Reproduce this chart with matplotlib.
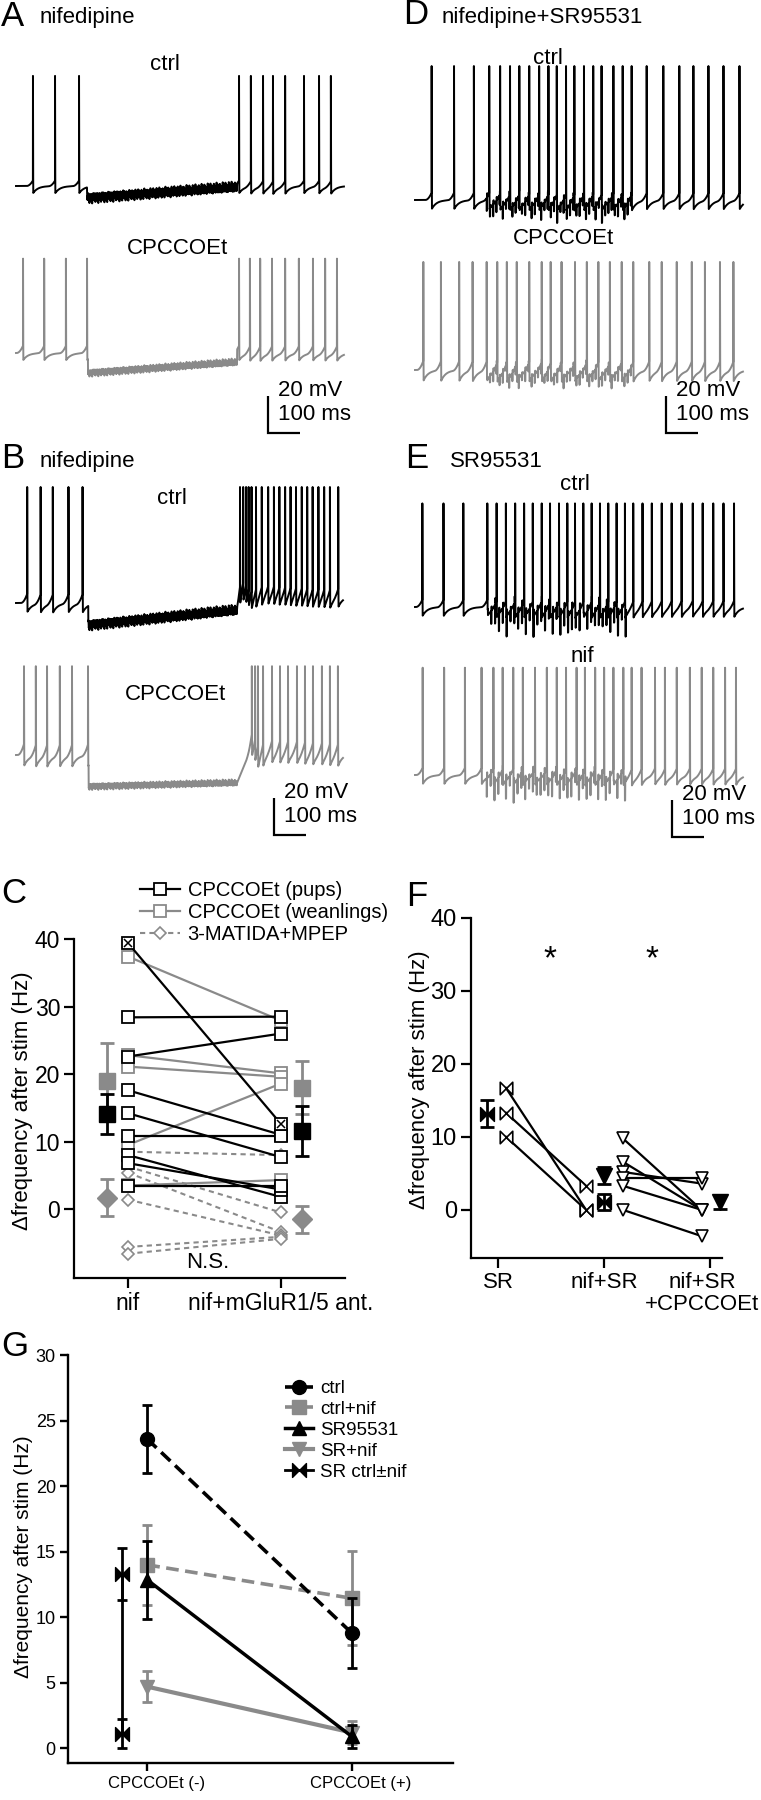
import numpy as np
import matplotlib
matplotlib.use('Agg')
import matplotlib.pyplot as plt
from matplotlib.path import Path
from matplotlib import font_manager
from matplotlib.lines import Line2D
from matplotlib.font_manager import FontProperties
from matplotlib.transforms import ScaledTranslation

# ---------------------------------------------------------------- data ----
# Traces: spike times (ms) read from the recordings
A_DUR = 1025
A_CTRL_SPIKES = [53, 122, 197, 697, 734, 772, 803, 841, 900, 947, 984]
A_CPCC_SPIKES = [22, 88, 156, 222, 697, 731, 763, 800, 841, 884, 928, 966, 1003]
A_CTRL_HYPER = (222, 691, -6.5, -0.5, 3.2)      # start, end, level0, level1, noise (mV)
A_CPCC_HYPER = (225, 691, -10.8, -4.9, 2.2)
A_CTRL_AMP, A_CPCC_AMP = 59.5, 51.0

B_DUR = 1022
B_CTRL_SPIKES = [35, 77, 115, 164, 208, 700, 710, 719, 727, 736, 750, 768, 788, 806,
                 823, 841, 858, 875, 893, 910, 927, 945, 963, 981, 1007]
B_CPCC_SPIKES = [25, 62, 97, 137, 175, 225, 737, 747, 756, 772, 800, 825, 850, 878,
                 903, 928, 956, 981, 1006]
B_CTRL_HYPER = (226, 691, -11.9, -3.8, 3.2)
B_CPCC_HYPER = (227, 691, -17.0, -15.0, 2.0)
B_CTRL_PLATEAU = (691, 1022, -3.8, 7.0, 3.8, 15)   # start, end, from, peak, final, rise
B_CPCC_PLATEAU = (691, 1022, -15.0, 3.8, 1.0, 45)
B_CTRL_AMP, B_CPCC_AMP = 62.7, 48.0

D_DUR = 1025
D_CTRL_SPIKES = [52, 122, 184, 232, 266, 297, 326, 357, 388, 417, 443, 472, 498, 528, 557,
                 583, 620, 649, 677, 724, 776, 826, 870, 917, 964, 1014]
D_CPCC_SPIKES = [26, 81, 138, 180, 224, 257, 287, 318, 357, 396, 424, 458, 500, 537, 573,
                 609, 646, 682, 732, 771, 818, 865, 906, 953, 995]
D_CTRL_STIM = (224, 682, 7.0, 10.0)   # start, end, depth (mV), period (ms)
D_CPCC_STIM = (224, 682, 5.5, 10.0)
D_CTRL_AMP, D_CPCC_AMP = 72.4, 58.4

E_DUR = 1025
E_CTRL_SPIKES = [23, 89, 151, 226, 255, 284, 313, 341, 368, 396, 422, 450, 476, 500, 526,
                 552, 578, 604, 630, 656, 682, 711, 740, 771, 802, 833, 868, 899, 932, 964, 997]
E_NIF_SPIKES = [24, 91, 156, 208, 245, 274, 307, 337, 375, 412, 443, 472, 505, 531, 563,
                591, 620, 651, 677, 708, 750, 781, 818, 859, 896, 932, 969, 1003]
E_CTRL_STIM = (226, 670, 11.0, 12.0)
E_NIF_STIM = (224, 667, 10.0, 12.0)
E_CTRL_AMP, E_NIF_AMP = 56.0, 58.0

# Panel C (Hz)
C_CATS = ['nif', 'nif+mGluR1/5 ant.']
PUPS_NIF = [28.4, 22.6, 17.6, 14.2, 10.8, 8.0, 6.8, 3.4]
PUPS_ANT = [28.5, 26.0, 11.0, 7.7, 10.8, 1.8, 2.9, 3.4]
PUPS_X_NIF, PUPS_X_ANT = 39.4, 12.6          # crossed-square cell
WEAN_NIF = [37.4, 22.8, 21.1, 9.5, 3.5]
WEAN_ANT = [27.9, 20.1, 19.6, 18.6, 4.3]
MAT_NIF = [8.5, 6.3, 5.4, 1.4, -5.6, -6.6]
MAT_ANT = [8.0, -0.5, -3.4, -3.9, -4.1, -4.4]
PUPS_MEAN, PUPS_SEM = [14.1, 11.5], [3.0, 3.7]
WEAN_MEAN, WEAN_SEM = [18.9, 18.0], [5.7, 3.9]
MAT_MEAN, MAT_SEM = [1.7, -1.5], [2.7, 2.0]

# Panel F (Hz)
F_CATS = ['SR', 'nif+SR', 'nif+SR\n+CPCCOEt']
F_SR = [16.7, 13.3, 10.0]
F_SR_NIF = [0.0, 3.3, 0.0]
F_NIFSR = [9.8, 6.6, 5.2, 4.3, 3.3, 0.0]
F_NIFSR_CPCC = [0.0, 0.0, 3.6, 4.3, 0.0, -3.6]
F_BOW_MEAN, F_BOW_SEM = [13.2, 1.1], [1.9, 1.1]
F_TRI_MEAN, F_TRI_SEM = [4.7, 1.1], [1.2, 0.95]

# Panel G (Hz)
G_CATS = ['CPCCOEt (-)', 'CPCCOEt (+)']
G_CTRL, G_CTRL_E = [23.6, 8.8], [2.6, 2.7]
G_CTRLNIF, G_CTRLNIF_E = [14.0, 11.45], [3.05, 3.6]
G_SR, G_SR_E = [12.85, 0.9], [3.0, 0.85]
G_SRNIF, G_SRNIF_E = [4.7, 1.2], [1.17, 0.9]
G_SRCTRL, G_SRCTRL_E = [13.3, 1.1], [1.95, 1.1]

# --------------------------------------------------------------- setup ----
W, H, DPI = 761, 1800, 100
plt.rcParams['font.family'] = ['Liberation Sans', 'DejaVu Sans']
names = {f.name for f in font_manager.fontManager.ttflist}
if 'Liberation Sans Narrow' in names:
    G_FAM, G_SIZE, G_LEG = ['Liberation Sans Narrow', 'Liberation Sans', 'DejaVu Sans'], 14, 14.5
else:
    G_FAM, G_SIZE, G_LEG = ['Liberation Sans', 'DejaVu Sans'], 12, 13.5
GFP = FontProperties(family=G_FAM, size=G_SIZE)

BLACK = '#000000'
GRAY = '#8a8a8a'
PX_MS = 0.32     # pixels per ms
PX_MV = 1.85     # pixels per mV

fig = plt.figure(figsize=(W / DPI, H / DPI), dpi=DPI)


def px_axes(x0, y0, x1, y1):
    ax = fig.add_axes([x0 / W, 1 - y1 / H, (x1 - x0) / W, (y1 - y0) / H])
    ax.patch.set_alpha(0)
    return ax


def scaled_axes(ox, oy, left, right, up, down, sx, sy):
    ax = px_axes(ox - left, oy - up, ox + right, oy + down)
    ax.set_xlim(-left / sx, right / sx)
    ax.set_ylim(-down / sy, up / sy)
    ax.axis('off')
    return ax


def ftext(x, y, s, **kw):
    kw.setdefault('va', 'center')
    return fig.text(x / W, 1 - y / H, s, **kw)


def make_trace(dur, spikes, amp, ramp=3.0, ahp=4.0, hyper=None, plateau=None, stim=None):
    t = np.arange(0.0, dur, 0.25)
    p = np.zeros_like(t)
    for ts in spikes:
        after = t > ts
        p[after] -= ahp * np.exp(-(t[after] - ts) / 15.0)
        pre = (t > ts - 20) & (t <= ts)
        p[pre] += ramp * ((t[pre] - (ts - 20)) / 20.0) ** 2
    v = p.copy()
    if hyper is not None:
        h0, h1, l0, l1, band = hyper
        m = (t >= h0) & (t < h1)
        f = (t[m] - h0) / (h1 - h0)
        tt = t[m]
        texture = (0.45 * np.sin(2 * np.pi * tt / 2.13)
                   + 0.30 * np.sin(2 * np.pi * tt / 4.71 + 1.0)
                   + 0.25 * np.sin(2 * np.pi * tt / 9.37 + 2.0))
        v[m] = l0 + (l1 - l0) * f + band * texture
    if plateau is not None:
        q0, q1, start, peak, end, rise = plateau
        m = t >= q0
        tt = t[m] - q0
        lvl = np.where(tt < rise, start + (peak - start) * tt / rise,
                       peak + (end - peak) * (tt - rise) / (q1 - q0 - rise))
        v[m] = lvl + p[m]
    if stim is not None:
        s0, s1, depth, period = stim
        for k, ta in enumerate(np.arange(s0, s1, period)):
            d = depth * (0.5 + 0.5 * abs(np.cos(1.3 * k)))
            m1 = (t >= ta) & (t < ta + 1.0)
            v[m1] -= d
            m2 = (t >= ta + 1.0) & (t < ta + 2.0)
            v[m2] += 0.3 * d
    for ts in spikes:
        i = int(round(ts / 0.25))
        if 0 <= i < len(t):
            v[i] = amp
            for j, fr in ((1, 0.55), (2, 0.25), (3, 0.08)):
                if i + j < len(t):
                    v[i + j] = max(v[i + j], amp * fr)
    return t, v


def draw_trace(x0, x1, base_px, tv, amp, color):
    t, v = tv
    ax = scaled_axes(x0, base_px, 0, x1 - x0, amp * PX_MV + 8, 45, PX_MS, PX_MV)
    ax.plot(t, v, color=color, lw=1.4, clip_on=False)


def draw_scalebar(bx, by):
    ax = scaled_axes(bx, by, 5, 110, 60, 5, PX_MS, PX_MV)
    ax.plot([0, 0, 100], [20, 0, 0], color=BLACK, lw=1.6, solid_joinstyle='miter',
            solid_capstyle='butt')
    ax.text(31, 23, '20 mV', fontsize=16, va='center', ha='left')
    ax.text(31, 10, '100 ms', fontsize=16, va='center', ha='left')


# ---------------------------------------------------------- traces A,B,D,E
draw_trace(16, 344, 186, make_trace(A_DUR, A_CTRL_SPIKES, A_CTRL_AMP, 3, 4, hyper=A_CTRL_HYPER), A_CTRL_AMP, BLACK)
draw_trace(16, 344, 353, make_trace(A_DUR, A_CPCC_SPIKES, A_CPCC_AMP, 4, 4, hyper=A_CPCC_HYPER), A_CPCC_AMP, GRAY)
draw_scalebar(268, 433)

draw_trace(16, 343, 603, make_trace(B_DUR, B_CTRL_SPIKES, B_CTRL_AMP, 5, 5, hyper=B_CTRL_HYPER,
                                    plateau=B_CTRL_PLATEAU), B_CTRL_AMP, BLACK)
draw_trace(16, 343, 755, make_trace(B_DUR, B_CPCC_SPIKES, B_CPCC_AMP, 6, 6, hyper=B_CPCC_HYPER,
                                    plateau=B_CPCC_PLATEAU), B_CPCC_AMP, GRAY)
draw_scalebar(274, 835)

draw_trace(415, 743, 200, make_trace(D_DUR, D_CTRL_SPIKES, D_CTRL_AMP, 4, 5, stim=D_CTRL_STIM), D_CTRL_AMP, BLACK)
draw_trace(415, 743, 370, make_trace(D_DUR, D_CPCC_SPIKES, D_CPCC_AMP, 5, 6, stim=D_CPCC_STIM), D_CPCC_AMP, GRAY)
draw_scalebar(666, 433)

draw_trace(415, 743, 607, make_trace(E_DUR, E_CTRL_SPIKES, E_CTRL_AMP, 4, 5, stim=E_CTRL_STIM), E_CTRL_AMP, BLACK)
draw_trace(415, 743, 775, make_trace(E_DUR, E_NIF_SPIKES, E_NIF_AMP, 4, 5, stim=E_NIF_STIM), E_NIF_AMP, GRAY)
draw_scalebar(672, 837)

# labels for trace panels
LET = 25
TXT = 16
ftext(1, 16, 'A', fontsize=LET)
ftext(40, 18, 'nifedipine', fontsize=TXT)
ftext(165, 65, 'ctrl', fontsize=TXT, ha='center')
ftext(178, 248, 'CPCCOEt', fontsize=TXT, ha='center')
ftext(1, 458, 'B', fontsize=LET)
ftext(40, 461, 'nifedipine', fontsize=TXT)
ftext(172, 498, 'ctrl', fontsize=TXT, ha='center')
ftext(175, 695, 'CPCCOEt', fontsize=TXT, ha='center')
ftext(403, 15, 'D', fontsize=LET)
ftext(442, 18, 'nifedipine+SR95531', fontsize=TXT)
ftext(548, 58, 'ctrl', fontsize=TXT, ha='center')
ftext(563, 238, 'CPCCOEt', fontsize=TXT, ha='center')
ftext(405, 458, 'E', fontsize=LET)
ftext(450, 462, 'SR95531', fontsize=TXT)
ftext(575, 485, 'ctrl', fontsize=TXT, ha='center')
ftext(582, 657, 'nif', fontsize=TXT, ha='center')
ftext(1, 893, 'C', fontsize=LET)
ftext(406, 896, 'F', fontsize=LET)
ftext(1, 1346, 'G', fontsize=LET)


def style_axes(ax, lw=1.6, tl=7, ls=16):
    for s in ('top', 'right'):
        ax.spines[s].set_visible(False)
    for s in ('left', 'bottom'):
        ax.spines[s].set_linewidth(lw)
    ax.tick_params(direction='out', length=tl, width=lw, labelsize=ls, pad=3)


# bowtie marker
BOW = Path([(-1, -1), (-1, 1), (1, -1), (1, 1), (-1, -1)],
           [Path.MOVETO, Path.LINETO, Path.LINETO, Path.LINETO, Path.CLOSEPOLY])

# --------------------------------------------------------------- panel C
axC = px_axes(74, 939, 345, 1278)
style_axes(axC, ls=16.5)
axC.set_xlim(0.647, 2.418)
axC.set_ylim(-10.2, 40)
axC.set_yticks([0, 10, 20, 30, 40])
axC.set_xticks([1, 2])
axC.set_xticklabels(C_CATS)
OFF = 0.135
for a, b in zip(MAT_NIF, MAT_ANT):
    axC.plot([1, 2], [a, b], color=GRAY, lw=1.5, dashes=(2.5, 2), marker='D', ms=6.5,
             mfc='white', mec=GRAY, mew=1.2, zorder=2, clip_on=False)
for a, b in zip(WEAN_NIF, WEAN_ANT):
    axC.plot([1, 2], [a, b], color=GRAY, lw=1.6, marker='s', ms=8, mfc='white', mec=GRAY,
             mew=1.3, zorder=3, clip_on=False)
for a, b in zip(PUPS_NIF, PUPS_ANT):
    axC.plot([1, 2], [a, b], color=BLACK, lw=1.6, marker='s', ms=8, mfc='white', mec=BLACK,
             mew=1.3, zorder=4, clip_on=False)
axC.plot([1, 2], [PUPS_X_NIF, PUPS_X_ANT], color=BLACK, lw=1.6, marker='s', ms=8, mfc='white',
         mec=BLACK, mew=1.3, zorder=4, clip_on=False)
axC.plot([1, 2], [PUPS_X_NIF, PUPS_X_ANT], ls='none', marker='x', ms=6, mec=BLACK, mew=1.1,
         zorder=5, clip_on=False)
ex = [1 - OFF, 2 + OFF]
axC.errorbar(ex, MAT_MEAN, yerr=MAT_SEM, fmt='D', ms=10, color=GRAY, ecolor=GRAY, elinewidth=2,
             capsize=5, capthick=2, zorder=6)
axC.errorbar(ex, WEAN_MEAN, yerr=WEAN_SEM, fmt='s', ms=12, color=GRAY, ecolor=GRAY,
             elinewidth=2, capsize=5, capthick=2, zorder=6)
axC.errorbar(ex, PUPS_MEAN, yerr=PUPS_SEM, fmt='s', ms=12, color=BLACK, ecolor=BLACK,
             elinewidth=2, capsize=5, capthick=2, zorder=7)
ftext(208, 1262, 'N.S.', fontsize=16, ha='center')
ftext(23, 1101, 'Δfrequency after stim (Hz)', fontsize=16, rotation=90, ha='center')
hC = [Line2D([], [], color=BLACK, lw=1.6, marker='s', ms=8, mfc='white', mec=BLACK, mew=1.3,
             label='CPCCOEt (pups)'),
      Line2D([], [], color=GRAY, lw=1.6, marker='s', ms=8, mfc='white', mec=GRAY, mew=1.3,
             label='CPCCOEt (weanlings)'),
      Line2D([], [], color=GRAY, lw=1.5, dashes=(2.5, 2), marker='D', ms=6.5, mfc='white',
             mec=GRAY, mew=1.2, label='3-MATIDA+MPEP')]
fig.legend(handles=hC, loc='upper left', bbox_to_anchor=(140 / W, 1 - 881 / H), frameon=False,
           fontsize=14.5, handlelength=2.0, handletextpad=0.36, labelspacing=0.14, borderpad=0,
           borderaxespad=0)

# --------------------------------------------------------------- panel F
axF = px_axes(470.7, 918, 721.7, 1258)
style_axes(axF, ls=17)
axF.set_xlim(0.742, 3.11)
axF.set_ylim(-6.6, 40)
axF.set_yticks([0, 10, 20, 30, 40])
axF.set_xticks([1, 2, 3])
axF.set_xticklabels(F_CATS, fontsize=16, linespacing=1.05)
lab3 = axF.get_xticklabels()[2]
lab3.set_transform(lab3.get_transform() + ScaledTranslation(-8 / DPI, 0, fig.dpi_scale_trans))
for a, b in zip(F_SR, F_SR_NIF):
    axF.plot([1.075, 1.83], [a, b], color=BLACK, lw=1.6, marker=BOW, ms=9, mfc='white',
             mec=BLACK, mew=1.2, zorder=3)
for a, b in zip(F_NIFSR, F_NIFSR_CPCC):
    axF.plot([2.177, 2.92], [a, b], color=BLACK, lw=1.6, marker='v', ms=9, mfc='white',
             mec=BLACK, mew=1.2, zorder=3)
axF.errorbar([0.896, 2.0], F_BOW_MEAN, yerr=F_BOW_SEM, fmt='none', ecolor=BLACK, elinewidth=2,
             capsize=5, capthick=2, zorder=5)
axF.plot([0.896, 2.0], F_BOW_MEAN, ls='none', marker=BOW, ms=10, color=BLACK, zorder=6)
axF.errorbar([2.0, 3.09], F_TRI_MEAN, yerr=F_TRI_SEM, fmt='v', ms=11, color=BLACK,
             ecolor=BLACK, elinewidth=2, capsize=5, capthick=2, zorder=5, clip_on=False)
ftext(550, 968, '*', fontsize=24, ha='center', va='baseline')
ftext(652, 968, '*', fontsize=24, ha='center', va='baseline')
ftext(420, 1080, 'Δfrequency after stim (Hz)', fontsize=16, rotation=90, ha='center')

# --------------------------------------------------------------- panel G
axG = px_axes(68.3, 1355.3, 452.7, 1763.3)
style_axes(axG, lw=1.7, tl=6, ls=13)
axG.set_xlim(0.6135, 2.494)
axG.set_ylim(-1.15, 30)
axG.set_yticks([0, 5, 10, 15, 20, 25, 30])
axG.set_xticks([1, 2])
axG.set_xticklabels(G_CATS)
for lbl in axG.get_xticklabels():
    lbl.set_fontproperties(GFP)
    lbl.set_transform(lbl.get_transform() + ScaledTranslation(9 / DPI, 0, fig.dpi_scale_trans))
gx = [1, 2]
kw_e = dict(elinewidth=2, capsize=3.5, capthick=2)
axG.errorbar(gx, G_CTRLNIF, yerr=G_CTRLNIF_E, color=GRAY, lw=2.6, dashes=(3.5, 1.8), marker='s',
             ms=10, zorder=3, **kw_e)
axG.errorbar(gx, G_SRNIF, yerr=G_SRNIF_E, color=GRAY, lw=3, marker='v', ms=10, zorder=3, **kw_e)
axG.errorbar(gx, G_SR, yerr=G_SR_E, color=BLACK, lw=2.5, marker='^', ms=10, zorder=4, **kw_e)
axG.errorbar(gx, G_CTRL, yerr=G_CTRL_E, color=BLACK, lw=2.6, dashes=(3.5, 1.8), marker='o',
             ms=10, zorder=5, **kw_e)
axG.errorbar([0.875, 0.875], G_SRCTRL, yerr=G_SRCTRL_E, color=BLACK, lw=2, marker=BOW, ms=10,
             zorder=5, clip_on=False, **kw_e)
ftext(24, 1557, 'Δfrequency after stim (Hz)', fontsize=15, rotation=90, ha='center')
hG = [Line2D([], [], color=BLACK, lw=2.6, dashes=(3.5, 1.8), marker='o', ms=10, label='ctrl'),
      Line2D([], [], color=GRAY, lw=2.6, dashes=(3.5, 1.8), marker='s', ms=10, label='ctrl+nif'),
      Line2D([], [], color=BLACK, lw=2.5, marker='^', ms=10, label='SR95531'),
      Line2D([], [], color=GRAY, lw=3, marker='v', ms=10, label='SR+nif'),
      Line2D([], [], color=BLACK, lw=2, marker=BOW, ms=10, label='SR ctrl±nif')]
fig.legend(handles=hG, loc='upper left', bbox_to_anchor=(285 / W, 1 - 1380 / H), frameon=False,
           prop=FontProperties(family=G_FAM, size=G_LEG), handlelength=1.5,
           handletextpad=0.36, labelspacing=0.2, borderpad=0, borderaxespad=0)

fig.savefig('out.png', dpi=DPI)
